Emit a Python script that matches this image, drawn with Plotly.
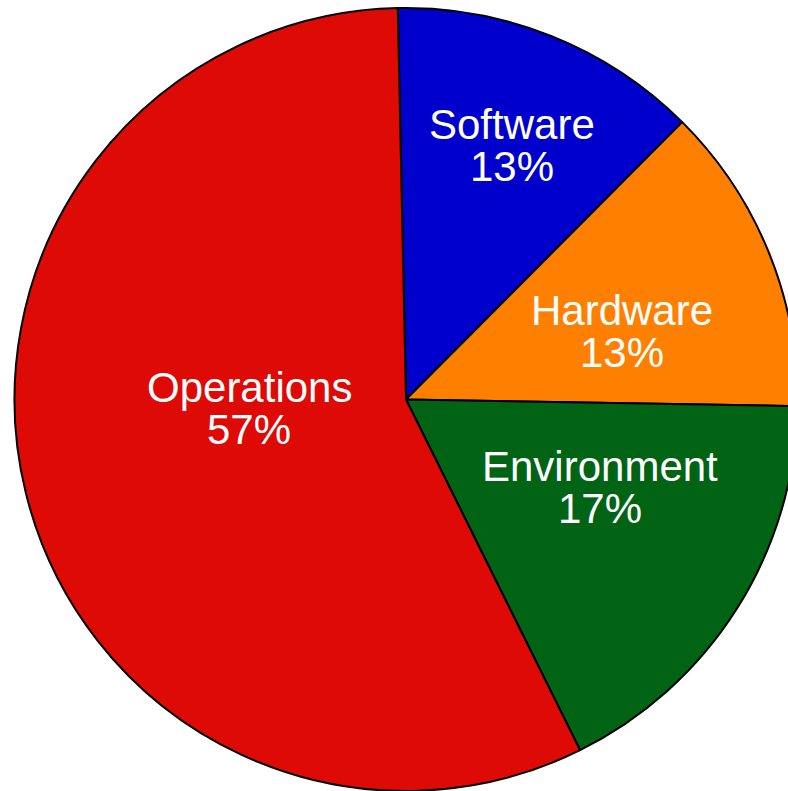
import plotly.graph_objects as go

labels = ["Software", "Hardware", "Environment", "Operations"]
values = [12.8, 12.8, 17.4, 57.0]
colors = ["#0000CC", "#FF8000", "#006414", "#DD0A05"]

# label anchor positions in screen pixels (name line centre, percent line centre)
label_px = [(512, 124, 167), (622, 311, 352), (600, 467, 509), (249, 388, 430)]

W, H, TOP = 812, 791, 8

fig = go.Figure(go.Pie(
    labels=labels,
    values=values,
    sort=False,
    direction="clockwise",
    rotation=-1.2,
    marker=dict(colors=colors, line=dict(color="black", width=2)),
    textinfo="none",
    hoverinfo="skip",
))

total = sum(values)
font = dict(family="Liberation Sans, Arial, sans-serif", size=42, color="white")
for lab, val, (x, y1, y2) in zip(labels, values, label_px):
    pct = f"{round(val / total * 100)}%"
    for txt, yy in ((lab, y1), (pct, y2)):
        fig.add_annotation(
            x=x / W, y=1 - (yy - TOP) / (H - TOP), xref="paper", yref="paper",
            text=txt, showarrow=False, xanchor="center", yanchor="middle",
            font=font,
        )

fig.update_layout(
    width=W, height=H,
    margin=dict(l=0, r=0, t=TOP, b=0),
    showlegend=False,
    paper_bgcolor="white",
    plot_bgcolor="white",
)
fig.write_html("out.html")
